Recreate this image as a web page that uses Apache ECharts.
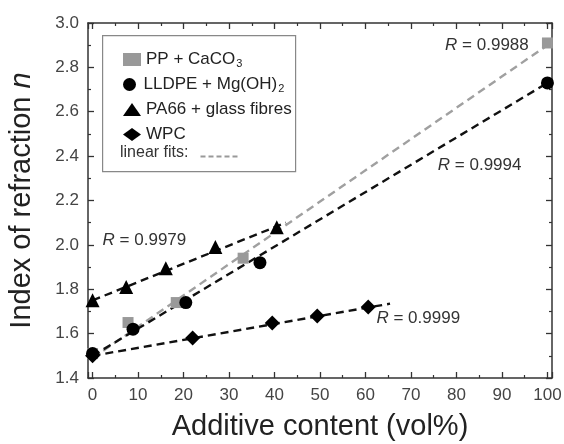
<!DOCTYPE html>
<html>
<head>
<meta charset="utf-8">
<script src="https://cdn.jsdelivr.net/npm/echarts@6/dist/echarts.min.js"></script>
<style>
  html, body { margin: 0; padding: 0; background: #fff; }
  #chart { width: 564px; height: 444px; }
</style>
</head>
<body>
<div id="chart"></div>
<script>
// Measured refractive index versus additive content
const ppCaCO3 = [[0, 1.51], [7.8, 1.65], [18.4, 1.74], [33.1, 1.94], [100, 2.91]];
const lldpeMgOH = [[0, 1.51], [8.9, 1.62], [20.5, 1.74], [36.8, 1.92], [100, 2.73]];
const pa66Glass = [[0, 1.75], [7.4, 1.81], [16.1, 1.895], [27, 1.99], [40.5, 2.08]];
const wpc = [[0, 1.50], [22, 1.58], [39.5, 1.648], [49.4, 1.68], [60.6, 1.72]];

// Linear fit end points
const ppFit = [[0, 1.49], [100, 2.90]];
const lldpeFit = [[0, 1.50], [100, 2.73]];
const pa66Fit = [[0, 1.75], [42.5, 2.10]];
const wpcFit = [[0, 1.50], [65.4, 1.735]];

// Correlation coefficients and where their labels sit
const rLabels = [
  { text: '0.9988', at: [96, 2.90], side: 'left' },
  { text: '0.9994', at: [94.4, 2.36], side: 'left' },
  { text: '0.9979', at: [2.1, 2.02], side: 'right' },
  { text: '0.9999', at: [62.3, 1.67], side: 'right' }
];

const legendItems = [
  { name: 'PP + CaCO3', icon: 'rect', label: '{t|PP + CaCO}{s|3}' },
  { name: 'LLDPE + Mg(OH)2', icon: 'circle', label: '{t|LLDPE + Mg(OH)}{s|2}' },
  { name: 'PA66 + glass fibres', icon: 'triangle', label: '{t|PA66 + glass fibres}' },
  { name: 'WPC', icon: 'diamond', label: '{t|WPC}' }
];

const FONT = '"Liberation Sans", Arial, sans-serif';
const AXIS_COLOR = '#333';
const TICK_COLOR = '#444';

const chart = echarts.init(document.getElementById('chart'), null, { renderer: 'canvas' });

function frameAxis(base) {
  return Object.assign({
    axisLine: { show: true, onZero: false, lineStyle: { color: AXIS_COLOR, width: 1.5 } },
    axisTick: { show: true, inside: true, length: 6, lineStyle: { color: AXIS_COLOR, width: 1.3 } },
    minorTick: { show: true, splitNumber: 2, length: 3, lineStyle: { color: AXIS_COLOR, width: 1.2 } },
    splitLine: { show: false },
    minorSplitLine: { show: false }
  }, base);
}

function fitSeries(name, data, color, r) {
  return {
    name: name, type: 'line', data: data, symbol: 'none', silent: true, z: 1,
    lineStyle: { color: color, width: 2.4, type: [8, 5] },
    markPoint: {
      silent: true,
      data: [{
        coord: r.at,
        symbol: 'circle',
        symbolSize: 1,
        itemStyle: { color: 'rgba(0,0,0,0)' },
        label: {
          show: true,
          position: r.side,
          distance: 0,
          formatter: '{i|R} = ' + r.text,
          fontFamily: FONT, fontSize: 17, color: '#333',
          rich: { i: { fontStyle: 'italic', fontFamily: FONT, fontSize: 17, color: '#333' } }
        }
      }]
    }
  };
}

// one legend component per row so each row sits at its own height
const legends = legendItems.map((it, i) => ({
  data: [{ name: it.name, icon: it.icon }],
  orient: 'vertical',
  left: 118, top: 46 + i * 25,
  itemWidth: 18, itemHeight: 13,
  selectedMode: false,
  formatter: () => it.label,
  textStyle: {
    fontFamily: FONT, fontSize: 17, color: '#222',
    rich: {
      t: { fontFamily: FONT, fontSize: 17, color: '#222' },
      s: { fontFamily: FONT, fontSize: 11, color: '#222', verticalAlign: 'bottom', padding: [9, 0, 0, 1] }
    }
  }
}));

chart.setOption({
  backgroundColor: '#fff',
  animation: false,
  grid: { left: 88, right: 12, top: 23, bottom: 66, outerBoundsMode: 'none', containLabel: false },
  xAxis: [
    frameAxis({
      type: 'value', min: -1, max: 101, splitNumber: 10, position: 'bottom',
      name: 'Additive content (vol%)', nameLocation: 'middle', nameGap: 34,
      nameTextStyle: { fontFamily: FONT, fontSize: 29, color: '#222' },
      axisLabel: {
        margin: 9, fontFamily: FONT, fontSize: 17, color: TICK_COLOR,
        formatter: v => (Math.abs(v % 10) < 1e-9 && v >= 0 && v <= 100) ? String(v) : ''
      }
    }),
    frameAxis({
      type: 'value', min: -1, max: 101, splitNumber: 10, position: 'top',
      axisLabel: { show: false }
    })
  ],
  yAxis: [
    frameAxis({
      type: 'value', min: 1.4, max: 3.0, interval: 0.2, position: 'left',
      name: 'Index of refraction {i|n}', nameLocation: 'middle', nameGap: 52, nameRotate: 90,
      nameTextStyle: {
        fontFamily: FONT, fontSize: 29, color: '#222',
        rich: { i: { fontFamily: FONT, fontSize: 29, fontStyle: 'italic', color: '#222' } }
      },
      axisLabel: {
        margin: 9, fontFamily: FONT, fontSize: 17, color: TICK_COLOR,
        formatter: v => v.toFixed(1)
      }
    }),
    frameAxis({
      type: 'value', min: 1.4, max: 3.0, interval: 0.2, position: 'right',
      axisLabel: { show: false }
    })
  ],
  legend: legends,
  graphic: [
    {
      type: 'rect', left: 102, top: 35, z: -1,
      shape: { width: 193, height: 136 },
      style: { fill: '#fff', stroke: '#888', lineWidth: 1.2 }
    },
    {
      type: 'text', left: 120, top: 145,
      style: { text: 'linear fits:', fontFamily: FONT, fontSize: 16, fill: '#333' }
    },
    {
      type: 'line', left: 198, top: 154,
      shape: { x1: 0, y1: 0, x2: 40, y2: 0 },
      style: { stroke: '#999', lineWidth: 2, lineDash: [5, 3] }
    }
  ],
  series: [
    fitSeries('ppFit', ppFit, '#a0a0a0', rLabels[0]),
    fitSeries('lldpeFit', lldpeFit, '#111', rLabels[1]),
    fitSeries('pa66Fit', pa66Fit, '#111', rLabels[2]),
    fitSeries('wpcFit', wpcFit, '#111', rLabels[3]),
    {
      name: 'PP + CaCO3', type: 'scatter', data: ppCaCO3, symbol: 'rect', symbolSize: 11, z: 2,
      itemStyle: { color: '#999', opacity: 1 }
    },
    {
      name: 'LLDPE + Mg(OH)2', type: 'scatter', data: lldpeMgOH, symbol: 'circle', symbolSize: 13, z: 3,
      itemStyle: { color: '#000', opacity: 1 }
    },
    {
      name: 'PA66 + glass fibres', type: 'scatter', data: pa66Glass, symbol: 'triangle', symbolSize: 14, z: 3,
      itemStyle: { color: '#000', opacity: 1 }
    },
    {
      name: 'WPC', type: 'scatter', data: wpc, symbol: 'diamond', symbolSize: 15, z: 3,
      itemStyle: { color: '#000', opacity: 1 }
    }
  ]
});
</script>
</body>
</html>
